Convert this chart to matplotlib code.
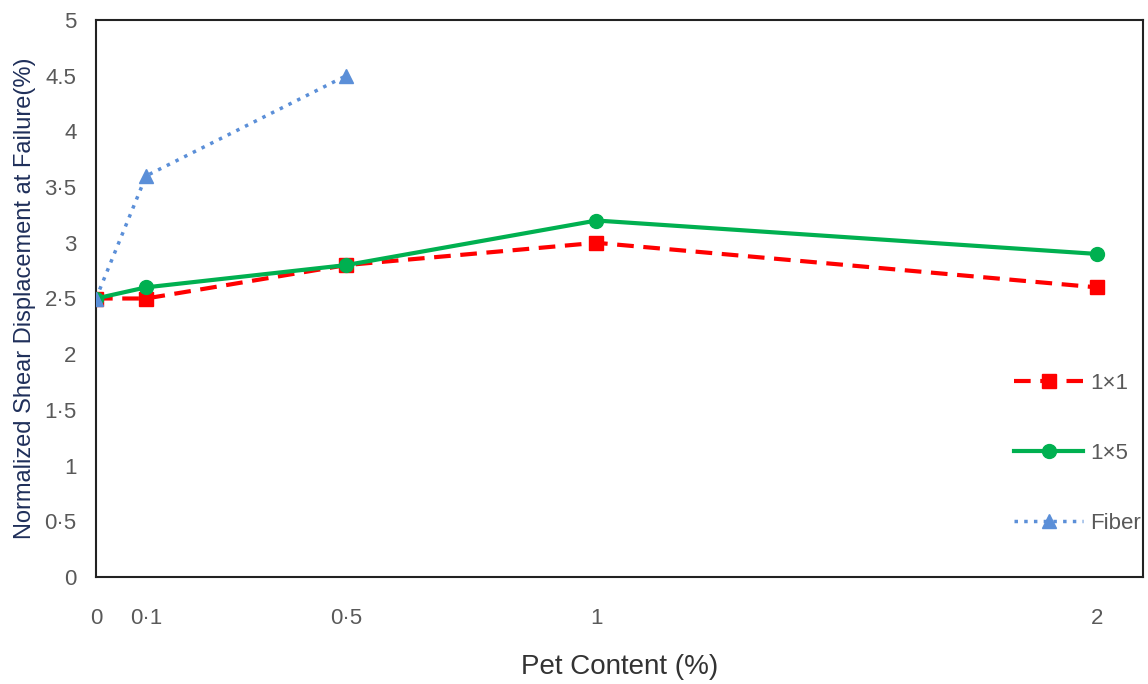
import matplotlib.pyplot as plt
from matplotlib.ticker import FixedLocator, FixedFormatter

plt.rcParams['font.family'] = ['Liberation Sans Narrow', 'Liberation Sans', 'DejaVu Sans']

# data
pet = [0, 0.1, 0.5, 1, 2]
s1x1 = [2.5, 2.5, 2.8, 3.0, 2.6]
s1x5 = [2.5, 2.6, 2.8, 3.2, 2.9]
fiber_x = [0, 0.1, 0.5]
fiber = [2.5, 3.6, 4.5]

x_ticks = [0, 0.1, 0.5, 1, 2]
x_labels = ['0', '0·1', '0·5', '1', '2']
y_ticks = [0, 0.5, 1, 1.5, 2, 2.5, 3, 3.5, 4, 4.5, 5]
y_labels = ['0', '0·5', '1', '1·5', '2', '2·5', '3', '3·5', '4', '4.5', '5']

fig = plt.figure(figsize=(11.48, 6.84), dpi=100)
ax = fig.add_axes([96 / 1148, 107 / 684, 1047 / 1148, 557 / 684])

ax.plot(pet, s1x1, color='#ff0000', ls=(0, (4, 2.3)), lw=3, marker='s', ms=10,
        label='1×1', zorder=3)
ax.plot(pet, s1x5, color='#00b050', ls='-', lw=3, marker='o', ms=10,
        label='1×5', zorder=4)
ax.plot(fiber_x, fiber, color='#5b8fd8', ls=(0, (1, 1.8)), lw=2.5, marker='^', ms=10,
        label='Fiber', zorder=5)

ax.set_xlim(0, 2.092)
ax.set_ylim(0, 5)
ax.xaxis.set_major_locator(FixedLocator(x_ticks))
ax.xaxis.set_major_formatter(FixedFormatter(x_labels))
ax.yaxis.set_major_locator(FixedLocator(y_ticks))
ax.yaxis.set_major_formatter(FixedFormatter(y_labels))
ax.tick_params(length=0, labelsize=16, colors='#595959', pad=14)
ax.tick_params(axis='x', pad=22)
for s in ax.spines.values():
    s.set_color('#222222')
    s.set_linewidth(1.5)

ax.set_xlabel('Pet Content (%)', fontsize=20, color='#333333', labelpad=18)
ax.set_ylabel('Normalized Shear Displacement at Failure(%)', fontsize=17,
              color='#1f2f5a', labelpad=6)

leg = ax.legend(loc='center right', bbox_to_anchor=(1.0, 0.222), frameon=False,
                fontsize=16, handlelength=3.1, labelspacing=2.2, handletextpad=0.3,
                borderaxespad=0.0, borderpad=0.1, labelcolor='#595959')

fig.savefig('out.png', dpi=100)
